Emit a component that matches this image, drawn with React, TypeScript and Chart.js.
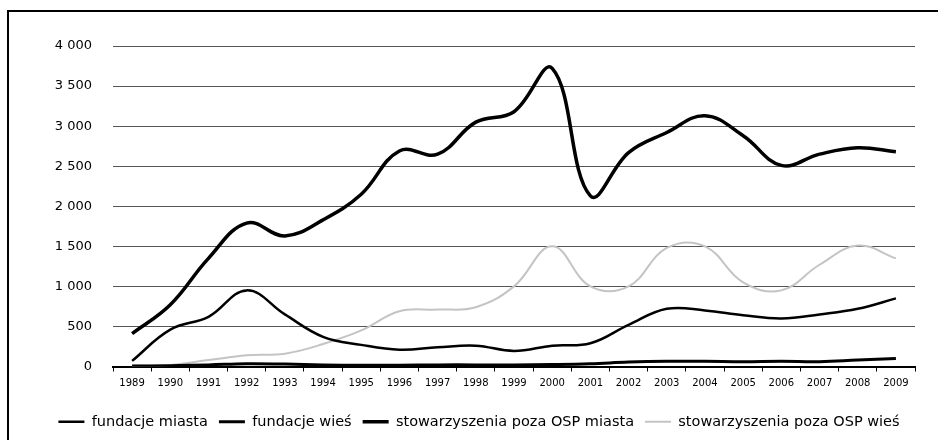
import React, { useEffect, useRef } from "react";
import { Chart, registerables } from "chart.js";

Chart.register(...registerables);

const years = ["1989", "1990", "1991", "1992", "1993", "1994", "1995", "1996", "1997", "1998", "1999", "2000", "2001", "2002", "2003", "2004", "2005", "2006", "2007", "2008", "2009"];
const fundacjeMiasta = [70, 460, 620, 950, 650, 370, 270, 210, 240, 260, 195, 260, 290, 520, 720, 700, 640, 600, 650, 720, 850];
const fundacjeWies = [5, 10, 20, 35, 30, 20, 15, 15, 20, 20, 20, 25, 35, 55, 65, 65, 60, 65, 60, 80, 100];
const stowMiasta = [410, 770, 1350, 1790, 1630, 1830, 2150, 2690, 2650, 3050, 3180, 3720, 2130, 2670, 2920, 3130, 2880, 2510, 2650, 2730, 2680];
const stowWies = [10, 20, 80, 140, 160, 280, 450, 690, 710, 740, 1000, 1500, 1000, 1000, 1480, 1500, 1050, 950, 1270, 1510, 1350];
const seriesNames = ["fundacje miasta", "fundacje wieś", "stowarzyszenia poza OSP miasta", "stowarzyszenia poza OSP wieś"];

function fmt(v: number): string {
  if (v >= 1000) return `${Math.floor(v / 1000)} ${String(v % 1000).padStart(3, "0")}`;
  return String(v);
}

export default function App() {
  const ref = useRef<HTMLCanvasElement | null>(null);
  useEffect(() => {
    if (!ref.current) return;
    const chart = new Chart(ref.current, {
      type: "line",
      data: {
        labels: years,
        datasets: [
          { label: seriesNames[0], data: fundacjeMiasta, borderColor: "#000", backgroundColor: "#000", borderWidth: 2.5, tension: 0.4, pointRadius: 0 },
          { label: seriesNames[1], data: fundacjeWies, borderColor: "#000", backgroundColor: "#000", borderWidth: 3, tension: 0.4, pointRadius: 0 },
          { label: seriesNames[2], data: stowMiasta, borderColor: "#000", backgroundColor: "#000", borderWidth: 3.5, tension: 0.4, pointRadius: 0 },
          { label: seriesNames[3], data: stowWies, borderColor: "#c4c4c4", backgroundColor: "#c4c4c4", borderWidth: 2, tension: 0.4, pointRadius: 0 },
        ],
      },
      options: {
        animation: false,
        responsive: true,
        maintainAspectRatio: false,
        layout: { padding: { top: 46, left: 43, right: 23, bottom: 1 } },
        plugins: {
          tooltip: { enabled: false },
          legend: {
            position: "bottom",
            labels: {
              usePointStyle: true,
              pointStyle: "line",
              pointStyleWidth: 26,
              color: "#000",
              padding: 11,
              font: { family: "DejaVu Sans", size: 14.5 },
            },
          },
        },
        scales: {
          x: {
            type: "category",
            offset: true,
            grid: { offset: true, drawOnChartArea: false, drawTicks: true, tickLength: 5, color: "#000", lineWidth: 1 },
            border: { display: true, color: "#000", width: 2 },
            ticks: { color: "#000", autoSkip: false, maxRotation: 0, padding: 6, font: { family: "DejaVu Sans", size: 10 } },
            afterFit: (s: any) => { s.height = 37; },
          },
          y: {
            min: 0,
            max: 4000,
            grid: { color: "#555", lineWidth: 1, drawTicks: false },
            border: { display: false },
            ticks: { stepSize: 500, color: "#000", padding: 21, font: { family: "DejaVu Sans", size: 13 }, callback: (v: any) => fmt(Number(v)) },
            afterFit: (s: any) => { s.width = 70; },
          },
        },
      },
    });
    return () => chart.destroy();
  }, []);
  return (
    <div style={{ position: "fixed", left: 0, top: 0, width: 938, height: 440, background: "#fff" }}>
      <div style={{ position: "absolute", left: 7, top: 10, width: 931, height: 430, borderTop: "2px solid #000", borderLeft: "2px solid #000", boxSizing: "border-box" }} />
      <canvas ref={ref} style={{ position: "absolute", left: 0, top: 0, width: 938, height: 440 }} />
    </div>
  );
}
